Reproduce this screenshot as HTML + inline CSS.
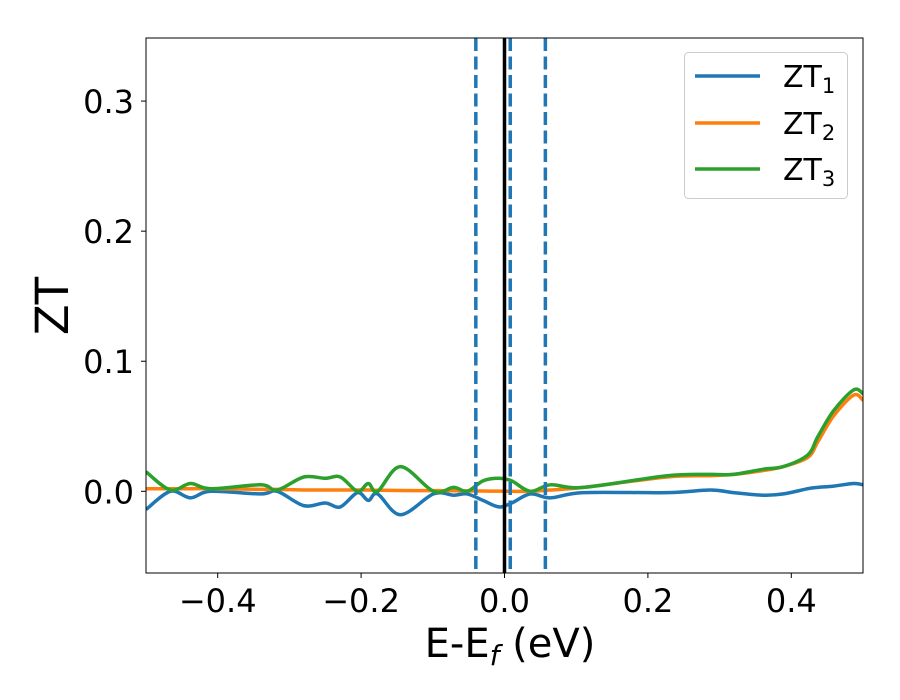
<!DOCTYPE html>
<html><head><meta charset="utf-8">
<style>
html,body{margin:0;padding:0;background:#fff;}
svg{display:block;font-family:"DejaVu Sans","Liberation Sans",sans-serif;}
</style></head>
<body>
<svg id="chart" width="900" height="700" viewBox="0 0 900 700" xmlns="http://www.w3.org/2000/svg">
<g id="plot"></g>
</svg>
<script>
const xValues = [-0.5,-0.466,-0.438,-0.41,-0.34,-0.317,-0.28,-0.25,-0.229,-0.205,-0.19,-0.177,-0.145,-0.099,-0.071,-0.052,-0.03,-0.008,0.01,0.036,0.064,0.11,0.227,0.287,0.319,0.361,0.389,0.423,0.437,0.459,0.487,0.5];
const zt1 = [-0.014,0,-0.005,0,-0.002,0,-0.011,-0.009,-0.012,-0.001,-0.007,-0.002,-0.018,-0.002,-0.003,-0.002,-0.007,-0.012,-0.009,-0.002,-0.005,-0.001,-0.001,0.001,-0.001,-0.003,-0.002,0.002,0.003,0.004,0.006,0.005];
const zt2 = [0.002,0.002,0.002,0.002,0.0015,0.0015,0.001,0.001,0.001,0.001,0.001,0.0008,0.0006,0.0005,0.0004,0.0003,0.0002,0.0001,0,0,0.001,0.003,0.011,0.012,0.013,0.016,0.019,0.026,0.038,0.058,0.074,0.07];
const zt3 = [0.015,0.001,0.006,0.002,0.005,0.001,0.011,0.010,0.011,0,0.006,0,0.019,0,0.003,0,0.008,0.010,0.008,0,0.005,0.003,0.012,0.013,0.013,0.017,0.019,0.028,0.042,0.062,0.078,0.075];
const xTicks = [-0.4,-0.2,0.0,0.2,0.4];
const xTickLabels = ["−0.4","−0.2","0.0","0.2","0.4"];
const yTicks = [0.0,0.1,0.2,0.3];
const yTickLabels = ["0.0","0.1","0.2","0.3"];
const dashedLines = [-0.040,0.008,0.057];
const solidLine = [0.0];

const L=146,R=863,T=38,B=573;
const xMin=-0.5,xMax=0.5,yMin=-0.0628,yMax=0.3485;
const sx=v=>L+(v-xMin)/(xMax-xMin)*(R-L);
const sy=v=>B-(v-yMin)/(yMax-yMin)*(B-T);
const NS="http://www.w3.org/2000/svg";
const svg=document.getElementById('chart');
function mk(tag,attrs,parent){const e=document.createElementNS(NS,tag);for(const k in attrs)e.setAttribute(k,attrs[k]);(parent||svg).appendChild(e);return e;}

const clip=mk('clipPath',{id:'clip'});
mk('rect',{x:L,y:T,width:R-L,height:B-T},clip);

function smooth(xs,ys){
  const p=xs.map((x,i)=>[sx(x),sy(ys[i])]);
  let d=`M${p[0][0]},${p[0][1]}`;
  for(let i=0;i<p.length-1;i++){
    const p0=p[i-1]||p[i],p1=p[i],p2=p[i+1],p3=p[i+2]||p2;
    const c1=[p1[0]+(p2[0]-p0[0])/6,p1[1]+(p2[1]-p0[1])/6];
    const c2=[p2[0]-(p3[0]-p1[0])/6,p2[1]-(p3[1]-p1[1])/6];
    d+=`C${c1[0]},${c1[1]} ${c2[0]},${c2[1]} ${p2[0]},${p2[1]}`;
  }
  return d;
}
const g=mk('g',{'clip-path':'url(#clip)'});
const series=[[zt1,'#1f77b4','zt1-line'],[zt2,'#ff7f0e','zt2-line'],[zt3,'#2ca02c','zt3-line']];
series.forEach(s=>{
  const p=mk('path',{d:smooth(xValues,s[0]),fill:'none',stroke:s[1],'stroke-width':3.5},g);
  
  
});
dashedLines.forEach(v=>{
  const l=mk('line',{x1:sx(v),x2:sx(v),y1:T,y2:B,stroke:'#1f77b4','stroke-width':3.5,'stroke-dasharray':'13 5.5'},g);
  
  
});
solidLine.forEach(v=>{
  const l=mk('line',{x1:sx(v),x2:sx(v),y1:T,y2:B,stroke:'#000','stroke-width':3.5},g);
  
  
});
const frame=mk('rect',{x:L,y:T,width:R-L,height:B-T,fill:'none',stroke:'#000','stroke-width':1});



xTicks.forEach((v,i)=>{
  mk('line',{x1:sx(v),x2:sx(v),y1:B,y2:B+5,stroke:'#000','stroke-width':1});
  const t=mk('text',{x:sx(v),y:612,'text-anchor':'middle','font-size':32});
  t.textContent=xTickLabels[i];
  
  
});
yTicks.forEach((v,i)=>{
  mk('line',{x1:L-5,x2:L,y1:sy(v),y2:sy(v),stroke:'#000','stroke-width':1});
  const t=mk('text',{x:L-12,y:sy(v)+12,'text-anchor':'end','font-size':32});
  t.textContent=yTickLabels[i];
  
  
});
</script>
<svg style="position:absolute;left:0;top:0" width="900" height="700" xmlns="http://www.w3.org/2000/svg" font-family="DejaVu Sans, Liberation Sans, sans-serif">
<text x="510" y="657" text-anchor="middle" font-size="40">E-E<tspan font-size="28" font-style="italic" dy="8">f</tspan><tspan dy="-8"> (eV)</tspan></text>
<text transform="translate(68,306) rotate(-90)" text-anchor="middle" font-size="45">ZT</text>
<g>
<rect x="684.5" y="52.5" width="163" height="146" rx="4" fill="#fff" fill-opacity="0.8" stroke="#ccc" stroke-width="1"/>
<line x1="695" x2="760" y1="76" y2="76" stroke="#1f77b4" stroke-width="3.5"/>
<text x="783" y="87" font-size="30">ZT<tspan font-size="21" dy="6">1</tspan></text>
<line x1="695" x2="760" y1="123" y2="123" stroke="#ff7f0e" stroke-width="3.5"/>
<text x="783" y="134" font-size="30">ZT<tspan font-size="21" dy="6">2</tspan></text>
<line x1="695" x2="760" y1="169" y2="169" stroke="#2ca02c" stroke-width="3.5"/>
<text x="783" y="180" font-size="30">ZT<tspan font-size="21" dy="6">3</tspan></text>
</g>
</svg>
</body></html>
